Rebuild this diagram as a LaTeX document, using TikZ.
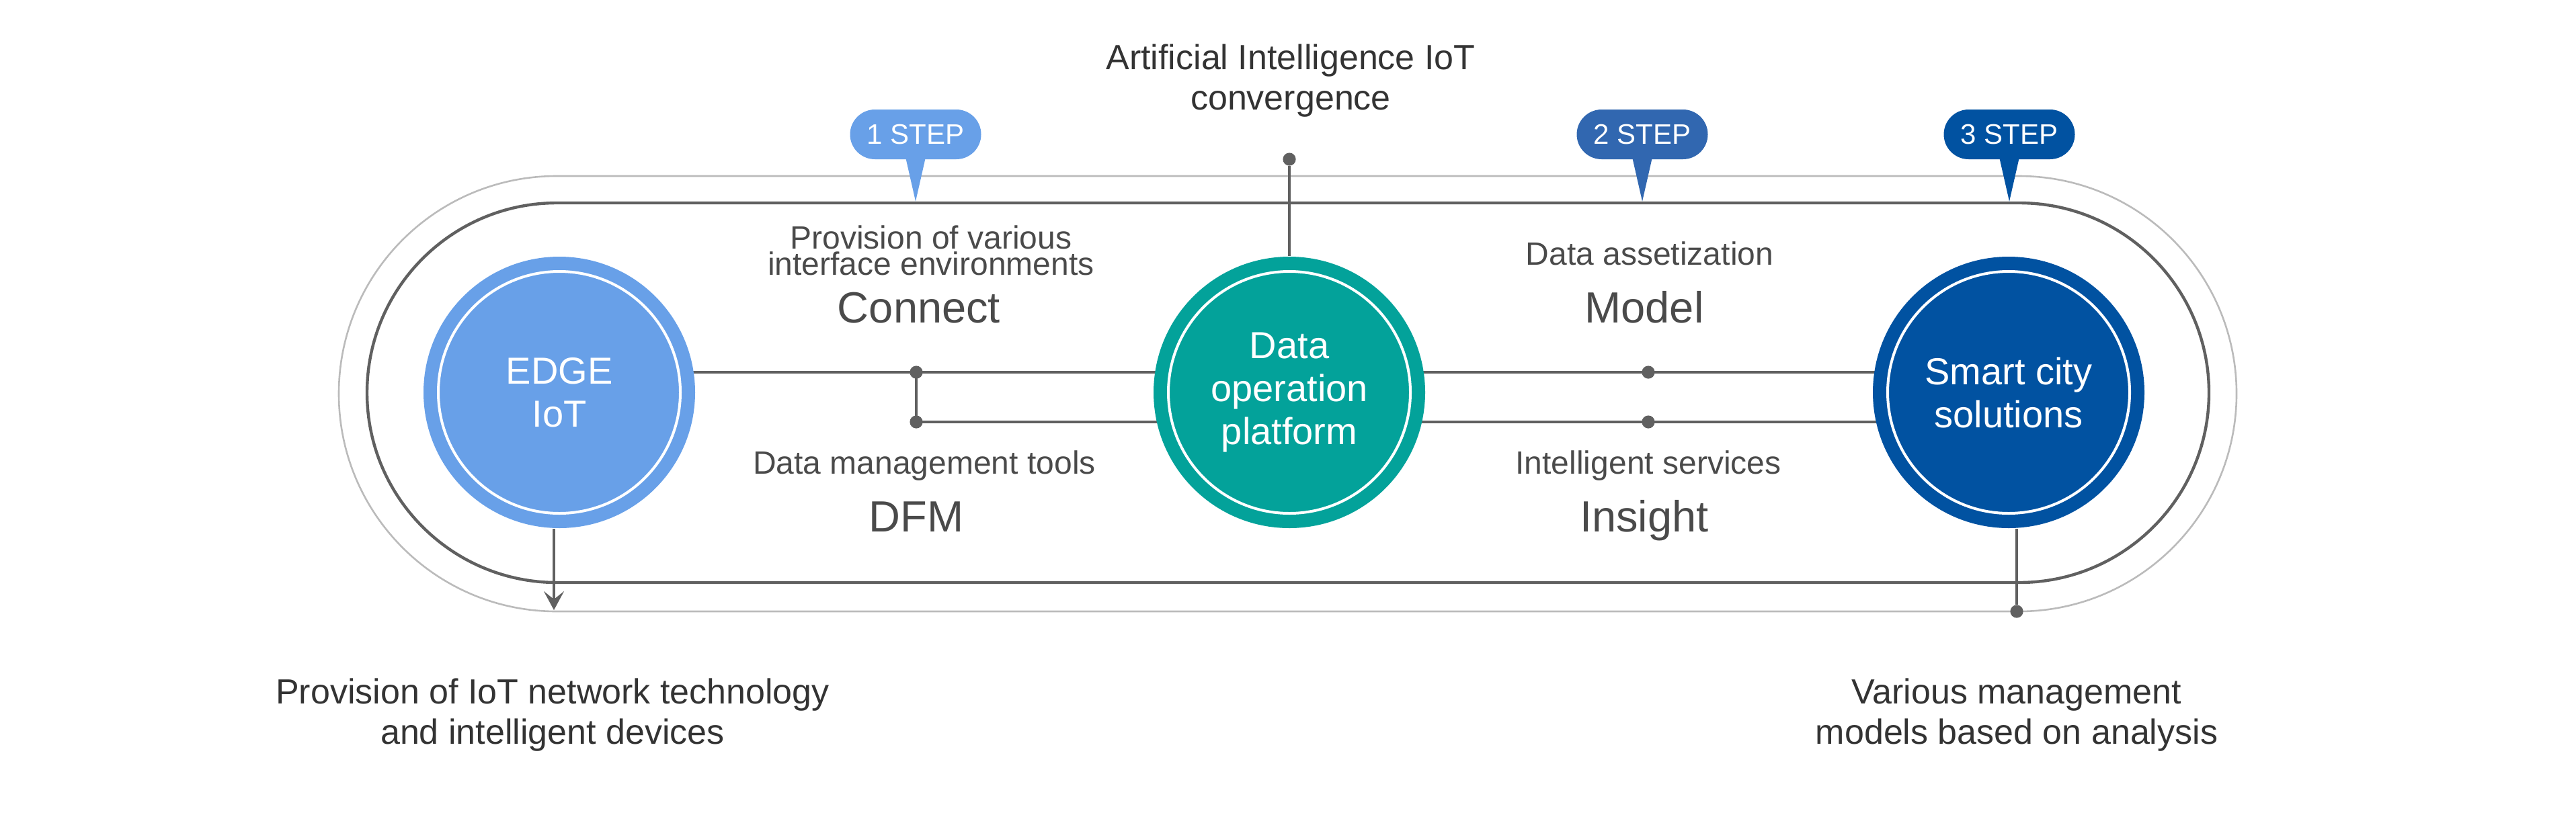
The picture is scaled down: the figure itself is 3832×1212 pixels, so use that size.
\documentclass[tikz,border=0pt]{standalone}
\usepackage{fontspec}
\setmainfont{Liberation Sans}
\usepackage{tikz}
\usetikzlibrary{arrows.meta,positioning,calc,shapes.misc,backgrounds}
\usepackage{xcolor}
\definecolor{edgeblue}{HTML}{68A0E8}
\definecolor{platteal}{HTML}{03A29A}
\definecolor{citynavy}{HTML}{0152A1}
\definecolor{stepmid}{HTML}{3167B0}
\definecolor{linegray}{HTML}{606060}
\definecolor{trackgray}{HTML}{BBBBBB}
\definecolor{labelgray}{HTML}{4A4A4A}
\definecolor{notegray}{HTML}{333333}

\begin{document}
\begin{tikzpicture}[x=0.25pt,y=-0.25pt,
    track/.style={rounded rectangle,inner sep=0pt},
    hub/.style={circle,minimum size=101pt,inner sep=0pt,text=white,align=center,font=\fontsize{14}{16}\selectfont},
    ring/.style={draw=white,line width=1pt},
    conn/.style={draw=linegray,line width=1.15pt},
    dot/.style={circle,fill=linegray,inner sep=0pt,minimum size=4.8pt},
    stepbox/.style={rounded rectangle,minimum width=48.75pt,minimum height=18.5pt,inner sep=0pt,text=white,font=\fontsize{10.5}{12}\selectfont},
    lbl/.style={text=labelgray,align=center,anchor=base,font=\fontsize{12}{9.75}\selectfont},
    big/.style={text=labelgray,anchor=base,font=\fontsize{16.25}{18}\selectfont},
    note/.style={text=notegray,align=center,anchor=base,font=\fontsize{13}{15}\selectfont}]
                    \useasboundingbox (0,0) rectangle (3832,1212);
                    \node[track,draw=trackgray,line width=0.65pt,minimum width=705.75pt,minimum height=162pt] (outer) at (1915.5,586) {};
                    \node[track,draw=linegray,line width=1.1pt,minimum width=685pt,minimum height=141.25pt] (inner) at (1916,584.5) {};
                    \node[hub,fill=edgeblue] (edge) at (832,584) {EDGE\\IoT};
                    \node[hub,fill=platteal] (plat) at (1918,584) {Data\\operation\\platform};
                    \node[hub,fill=citynavy] (smart) at (2988,584) {Smart city\\solutions};
                    \foreach \n in {edge,plat,smart}{
                        \draw[ring] (\n.center) circle (45pt);}
                    \node[dot] (j1) at (1363,554) {};
                    \node[dot] (j2) at (1363,628) {};
                    \node[dot] (m1) at (2452,554) {};
                    \node[dot] (m2) at (2452,628) {};
                    \node[dot] (top) at (1918,237) {};
                    \node[dot] (low) at (3000,910) {};
                    \coordinate (drop) at (824,908);
                    \begin{scope}[on background layer]
                        \draw[conn] ([yshift=7.5pt]edge.center) -- ([yshift=7.5pt]smart.center);
                        \draw[conn] (j2.center) -- ([yshift=-11pt]smart.center);
                    \end{scope}
                    \draw[conn] (j1.center) -- (j2.center);
                    \draw[conn] (plat) -- (top);
                    \draw[conn] (low |- smart.south) -- (low);
                    \draw[conn,-{Stealth[length=7pt,width=7.5pt,inset=3pt]}] (drop |- edge.south) -- (drop);
                    % step markers on the track
                    \foreach \x/\c/\t [count=\i] in {1362/edgeblue/1,2443/stepmid/2,2989/citynavy/3}{
                        \node[stepbox,fill=\c] (s\i) at (\x,200) {\t\ STEP};
                        \fill[\c] ([xshift=-3.75pt,yshift=1pt]s\i.south) -- ([xshift=3.75pt,yshift=1pt]s\i.south) -- (s\i.south |- inner.north) -- cycle;}
                    \node[note] (aiot) at (1920,163) {Artificial Intelligence IoT\\convergence};
                    \node[lbl] (prov) at (1385,409) {Provision of various\\interface environments};
                    \node[big] (connect) at (1367,480) {Connect};
                    \node[lbl] (dmt) at (1375,705) {Data management tools};
                    \node[big] (dfm) at (1363,791) {DFM};
                    \node[lbl] (asset) at (2454,394) {Data assetization};
                    \node[big] (model) at (2446,480) {Model};
                    \node[lbl] (isvc) at (2452,705) {Intelligent services};
                    \node[big] (insight) at (2446,791) {Insight};
                    \node[note] (devices) at (822,1107) {Provision of IoT network technology\\and intelligent devices};
                    \node[note] (analysis) at (3000,1107) {Various management\\models based on analysis};
                \end{tikzpicture}
\end{document}
